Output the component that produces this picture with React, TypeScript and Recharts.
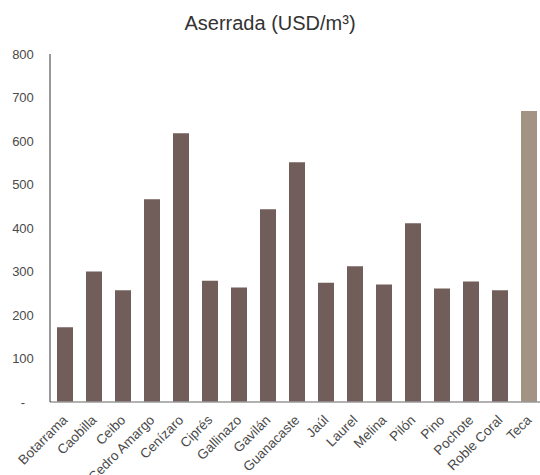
import { BarChart, Bar, Cell, XAxis, YAxis } from 'recharts';

// Precio de madera aserrada por especie (USD/m³)
const species = [
  'Botarrama', 'Caobilla', 'Ceibo', 'Cedro Amargo', 'Cenízaro', 'Ciprés',
  'Gallinazo', 'Gavilán', 'Guanacaste', 'Jaúl', 'Laurel', 'Melina',
  'Pilón', 'Pino', 'Pochote', 'Roble Coral', 'Teca',
];
const prices = [172, 300, 257, 466, 618, 279, 263, 443, 551, 274, 312, 270, 411, 261, 277, 257, 669];
const yTicks = [0, 100, 200, 300, 400, 500, 600, 700, 800];
const highlight = 'Teca';

const FONT = '"Liberation Sans", Arial, sans-serif';
const BAR = '#715e5a';
const BAR_HL = '#a39382';
const TEXT = '#4a4a4a';

const data = species.map((name, i) => ({ name, value: prices[i] }));

const XTick = ({ x, y, payload }: any) => (
  <g transform={`translate(${x + 0.5},${y + 7.5})`}>
    <text
      x={0}
      y={0}
      dy="0.35em"
      textAnchor="end"
      transform="rotate(-45)"
      fill={TEXT}
      fontSize={13.5}
      fontFamily={FONT}
    >
      {payload.value}
    </text>
  </g>
);

const YTick = ({ y, payload }: any) => (
  <text x={23} y={y} dy="0.35em" textAnchor="middle" fill={TEXT} fontSize={13} fontFamily={FONT}>
    {payload.value === 0 ? '-' : payload.value}
  </text>
);

export default function App() {
  return (
    <div
      style={{
        position: 'fixed',
        left: 0,
        top: 0,
        width: 540,
        height: 475,
        overflow: 'hidden',
        background: '#fff',
      }}
    >
      <div
        style={{
          position: 'absolute',
          top: 12,
          left: 0,
          width: 540,
          textAlign: 'center',
          fontFamily: FONT,
          fontSize: 20,
          color: '#333',
        }}
      >
        Aserrada (USD/m³)
      </div>
      <BarChart width={545} height={475} data={data} margin={{ top: 54, right: 2, left: 0, bottom: 0 }}>
        <XAxis
          dataKey="name"
          interval={0}
          height={73}
          tickLine={false}
          axisLine={{ stroke: '#999', strokeWidth: 1.5 }}
          tick={<XTick />}
        />
        <YAxis
          width={50}
          domain={[0, 800]}
          ticks={yTicks}
          interval={0}
          tickLine={false}
          axisLine={{ stroke: '#333' }}
          tick={<YTick />}
        />
        <Bar dataKey="value" barSize={16} isAnimationActive={false}>
          {data.map((d) => (
            <Cell key={d.name} fill={d.name === highlight ? BAR_HL : BAR} />
          ))}
        </Bar>
      </BarChart>
    </div>
  );
}
